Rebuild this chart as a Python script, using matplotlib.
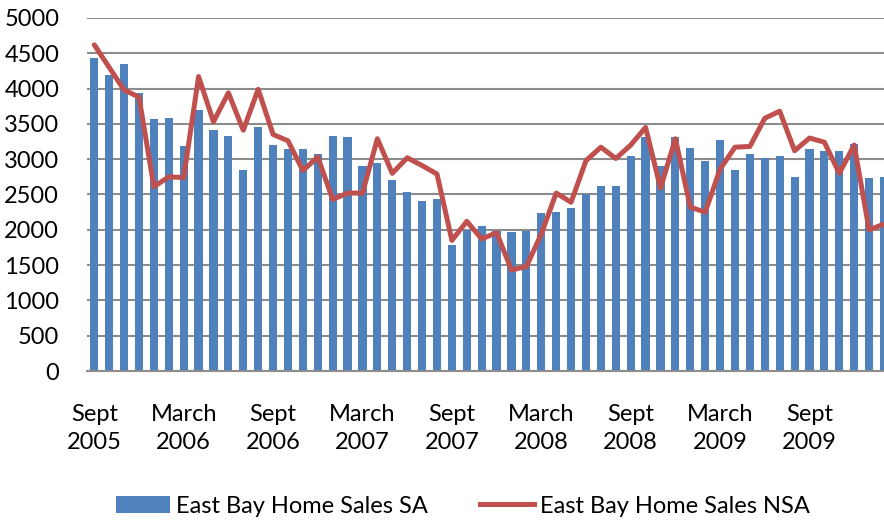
import matplotlib
matplotlib.use("Agg")
import matplotlib.pyplot as plt
from matplotlib.patches import Patch
from matplotlib.lines import Line2D

sa = [4440, 4190, 4350, 3940, 3570, 3580, 3180, 3700, 3410, 3330,
      2840, 3450, 3200, 3140, 3140, 3070, 3330, 3320, 2900, 2950,
      2700, 2530, 2410, 2430, 1780, 2000, 2050, 1980, 1970, 1980,
      2240, 2250, 2310, 2510, 2620, 2620, 3050, 3310, 2900, 3320,
      3160, 2980, 3270, 2850, 3070, 3020, 3040, 2750, 3150, 3110,
      3110, 3220, 2730, 2750]
nsa = [4620, 4300, 3980, 3880, 2610, 2750, 2740, 4170, 3530, 3940,
       3410, 3990, 3350, 3260, 2840, 3030, 2430, 2520, 2520, 3290,
       2800, 3020, 2910, 2790, 1850, 2120, 1870, 1960, 1430, 1480,
       1940, 2520, 2390, 2980, 3170, 3010, 3200, 3450, 2590, 3290,
       2320, 2250, 2860, 3170, 3180, 3580, 3680, 3120, 3300, 3240,
       2800, 3200, 2000, 2080]
tick_idx = [0, 6, 12, 18, 24, 30, 36, 42, 48]
tick_labels = ["Sept\n2005", "March\n2006", "Sept\n2006", "March\n2007", "Sept\n2007",
               "March\n2008", "Sept\n2008", "March\n2009", "Sept\n2009"]
yticks = list(range(0, 5001, 500))

plt.rcParams['font.family'] = ['Lato', 'DejaVu Sans']
fig = plt.figure(figsize=(8.84, 5.21), dpi=100)
ax = fig.add_axes([0.0984, 0.2879, 1.0 - 0.0984, 0.9655 - 0.2879])

x = list(range(len(sa)))
bar_c = "#4F81BD"
line_c = "#C0504D"
ax.bar(x, sa, width=0.55, color=bar_c, zorder=2)
ax.plot(x, nsa, color=line_c, linewidth=3.6, solid_joinstyle='round', solid_capstyle='round', zorder=3)

ax.set_ylim(0, 5000)
ax.set_xlim(-0.49, 53.0)
ax.set_yticks(yticks)
ax.set_yticklabels([str(v) for v in yticks], fontsize=17)
ax.set_xticks(tick_idx)
ax.set_xticklabels(tick_labels, fontsize=17, linespacing=1.4)
ax.tick_params(axis='y', length=0, pad=20)
ax.tick_params(axis='x', length=0, pad=24)
ax.grid(axis='y', color="#8C8C8C", linewidth=1.5, zorder=1)
for s in ['top', 'right', 'left']:
    ax.spines[s].set_visible(False)
ax.spines['bottom'].set_color("#8C8C8C")
ax.spines['bottom'].set_linewidth(1.5)
ax.set_axisbelow(True)

handles = [Patch(facecolor=bar_c, edgecolor='none'),
           Line2D([0], [0], color=line_c, linewidth=3.6)]
fig.legend(handles, ["East Bay Home Sales SA", "East Bay Home Sales NSA"],
           loc='center', bbox_to_anchor=(0.524, 0.028), ncol=2, frameon=False,
           fontsize=17, handlelength=2.3, handleheight=0.75, handletextpad=0.25,
           columnspacing=2.2)

fig.savefig("out.png", dpi=100)
